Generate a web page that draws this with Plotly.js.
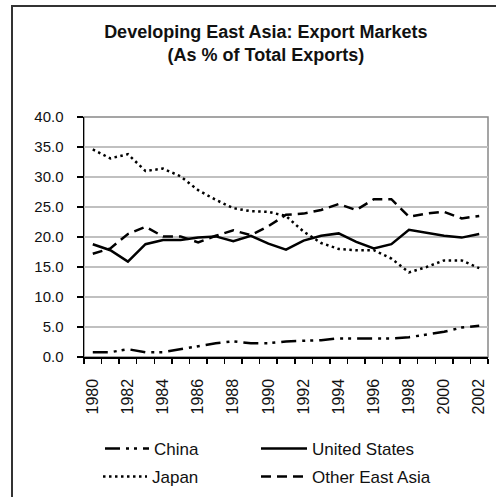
<!DOCTYPE html>
<html>
<head>
<meta charset="utf-8">
<script src="https://cdn.plot.ly/plotly-3.0.1.min.js"></script>
<style>
html,body{margin:0;padding:0;background:#fff;}
#wrap{position:relative;width:496px;height:497px;overflow:hidden;}
#chart{position:absolute;left:0;top:0;width:496px;height:497px;}
#frame{position:absolute;left:11px;top:5px;width:600px;height:600px;border-left:2px solid #333;border-top:2px solid #333;pointer-events:none;}
</style>
</head>
<body>
<div id="wrap"><div id="chart"></div><div id="frame"></div></div>
<script>
const years = [1980,1981,1982,1983,1984,1985,1986,1987,1988,1989,1990,1991,1992,1993,1994,1995,1996,1997,1998,1999,2000,2001,2002];
const china = [0.8,0.8,1.3,0.8,0.8,1.3,1.9,2.3,2.6,2.3,2.3,2.6,2.7,2.8,3.1,3.1,3.1,3.1,3.3,3.7,4.2,4.9,5.2];
const unitedStates = [18.8,17.8,15.9,18.8,19.5,19.5,19.9,20.1,19.3,20.2,18.9,17.9,19.4,20.2,20.6,19.2,18.1,18.8,21.2,20.7,20.2,19.9,20.5];
const japan = [34.6,33.1,33.8,31.0,31.4,30.1,27.8,26.2,24.8,24.3,24.2,23.5,20.9,19.0,18.0,17.8,17.8,16.4,14.1,15.0,16.1,16.1,14.8];
const otherEastAsia = [17.2,18.1,20.5,21.7,20.1,20.1,19.1,20.2,21.1,20.3,21.8,23.7,23.9,24.5,25.5,24.5,26.3,26.3,23.4,23.9,24.2,23.1,23.5];
const xTickVals = [1980,1982,1984,1986,1988,1990,1992,1994,1996,1998,2000,2002];
const xTickText = xTickVals.map(String);
const yTickVals = [0,5,10,15,20,25,30,35,40];
const yTickText = yTickVals.map(v => v.toFixed(1));

const FONT = 'Liberation Sans, Arial, sans-serif';
const traces = [
  {x: years, y: china, name: 'China', mode: 'lines', legend: 'legend',
   line: {color: '#000', width: 2.5, dash: '15px,6px,3px,5px,3px,6px'}},
  {x: years, y: unitedStates, name: 'United States', mode: 'lines', legend: 'legend2',
   line: {color: '#000', width: 2.5}},
  {x: years, y: japan, name: 'Japan', mode: 'lines', legend: 'legend3',
   line: {color: '#000', width: 2.5, dash: '2.5px,3.5px'}},
  {x: years, y: otherEastAsia, name: 'Other East Asia', mode: 'lines', legend: 'legend4',
   line: {color: '#000', width: 2.5, dash: '10px,6px'}}
];

const legendCommon = {
  orientation: 'h', xref: 'container', yref: 'container', xanchor: 'left', yanchor: 'middle',
  font: {family: FONT, size: 17, color: '#111'}, bgcolor: 'rgba(0,0,0,0)', borderwidth: 0
};
const row1 = 1 - 449/497, row2 = 1 - 477/497;

const layout = {
  width: 496, height: 497,
  margin: {l: 84, r: 8, t: 117, b: 140},
  paper_bgcolor: '#fff', plot_bgcolor: '#fff',
  font: {family: FONT, color: '#111'},
  title: {
    text: '<b>Developing East Asia: Export Markets</b><br><b>(As % of Total Exports)</b>',
    font: {family: FONT, size: 18, color: '#111'},
    xref: 'container', yref: 'container', x: 0.536, xanchor: 'center',
    y: 1 - 38/497, yanchor: 'top'
  },
  xaxis: {
    type: 'linear', range: [1979.5, 2002.5], fixedrange: true,
    tickmode: 'array', tickvals: xTickVals, ticktext: xTickText, tickangle: -90,
    ticks: '', ticklabelstandoff: 14,
    tickfont: {family: FONT, size: 16, color: '#111'},
    showgrid: false, zeroline: false,
    showline: true, linecolor: '#000', linewidth: 1.5,
    minor: {ticks: 'outside', tick0: 1979.5, dtick: 1, ticklen: 5, tickwidth: 1.5, tickcolor: '#000', showgrid: false}
  },
  yaxis: {
    range: [0, 40], fixedrange: true,
    tickmode: 'array', tickvals: yTickVals, ticktext: yTickText,
    ticks: 'outside', ticklen: 6, tickwidth: 1.5, tickcolor: '#000',
    ticklabelstandoff: 10,
    tickfont: {family: FONT, size: 15, color: '#111'},
    showgrid: true, gridcolor: '#c0c0c0', gridwidth: 1.5, zeroline: false,
    showline: true, linecolor: '#000', linewidth: 1.5
  },
  shapes: [
    {type: 'rect', xref: 'paper', yref: 'paper', x0: 0, x1: 1, y0: 0, y1: 1,
     line: {color: '#888', width: 1.5}, layer: 'below'}
  ],
  legend: Object.assign({}, legendCommon, {x: 100/496, y: row1, itemwidth: 44}),
  legend2: Object.assign({}, legendCommon, {x: 256/496, y: row1, itemwidth: 46}),
  legend3: Object.assign({}, legendCommon, {x: 98/496, y: row2, itemwidth: 44}),
  legend4: Object.assign({}, legendCommon, {x: 256/496, y: row2, itemwidth: 46}),
  showlegend: true
};

Plotly.newPlot('chart', traces, layout, {displayModeBar: false, staticPlot: true});
</script>
</body>
</html>
